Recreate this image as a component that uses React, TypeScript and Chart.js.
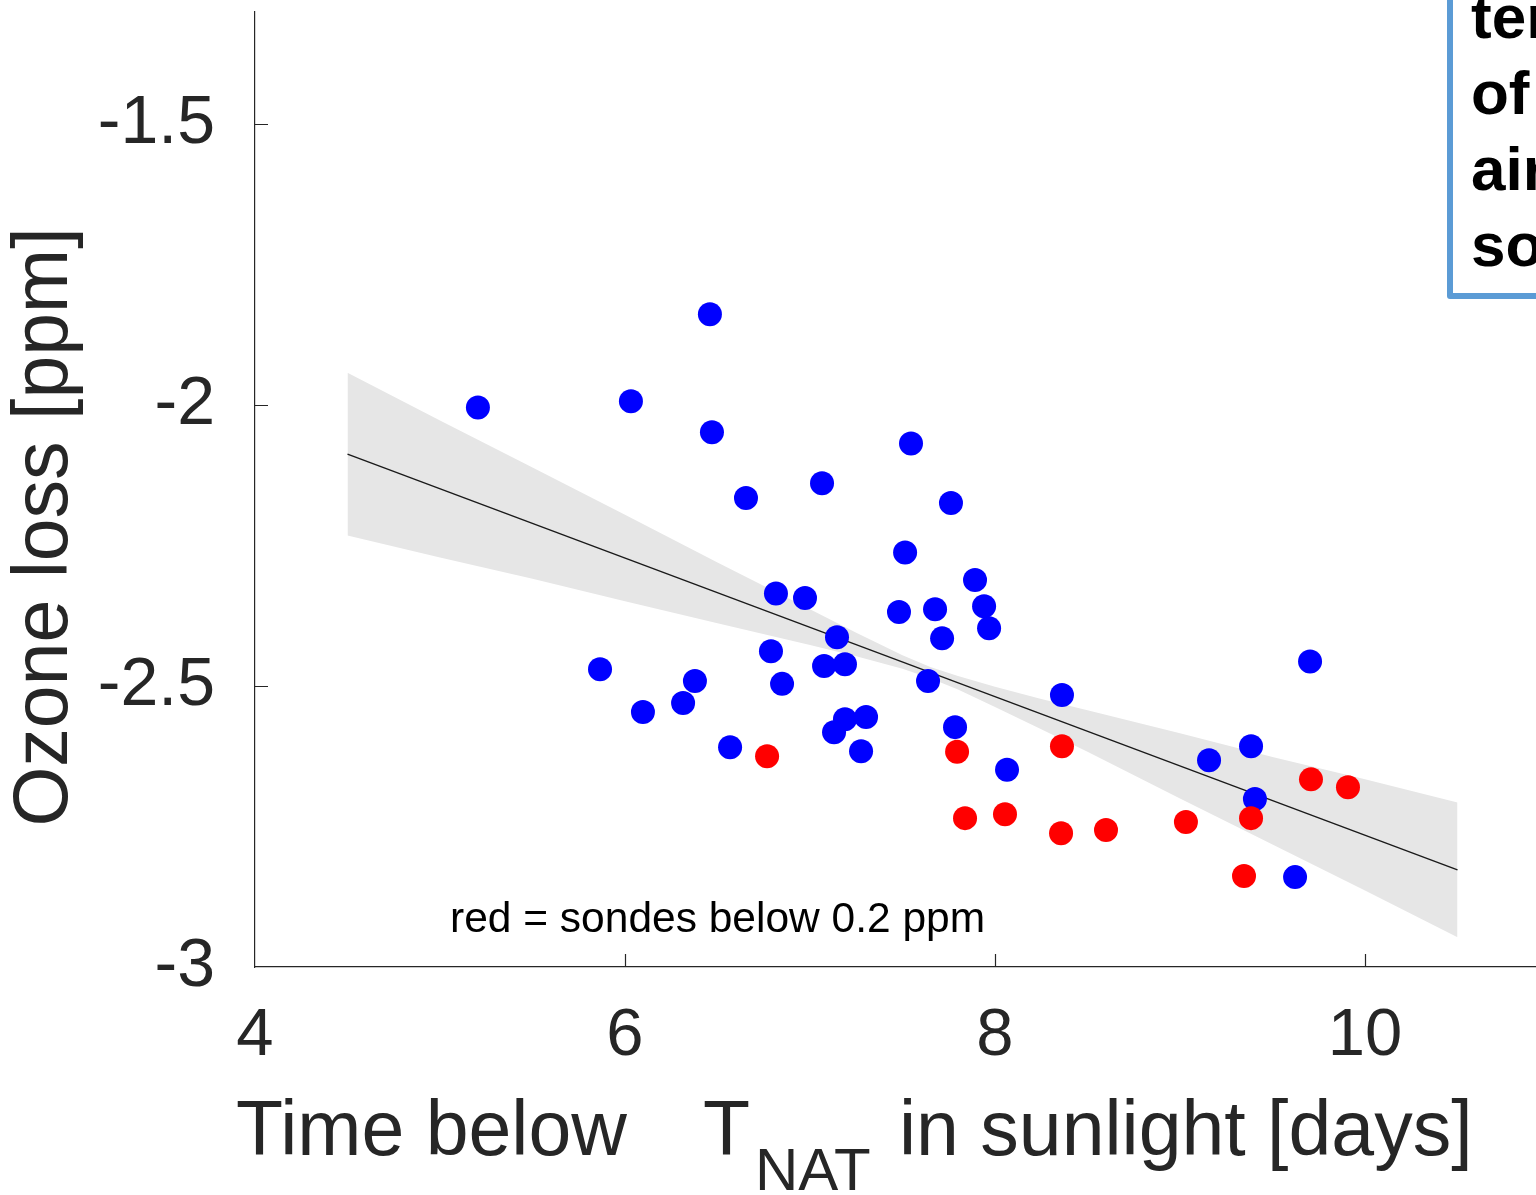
import React, { useEffect, useRef } from "react";
import { Chart, registerables } from "chart.js";

Chart.register(...registerables);

// Sondes with ozone above 0.2 ppm (blue)
const blueDays = [
  5.205, 6.032, 6.459, 6.47, 6.654, 7.065, 7.546, 7.762, 7.514, 6.816,
  6.973, 7.481, 7.676, 7.892, 7.941, 7.968, 7.714, 7.146, 6.789, 7.076,
  7.189, 5.865, 6.378, 6.849, 7.638, 6.097, 6.314, 7.189, 7.303, 7.13,
  6.568, 7.276, 7.784, 8.362, 8.065, 9.703, 9.157, 9.384, 9.405, 9.622,
];
const blueLoss = [
  -2.004, -1.993, -1.838, -2.048, -2.165, -2.139, -2.068, -2.174, -2.262, -2.335,
  -2.343, -2.368, -2.363, -2.311, -2.358, -2.397, -2.415, -2.413, -2.438, -2.464,
  -2.461, -2.47, -2.491, -2.496, -2.491, -2.546, -2.53, -2.559, -2.555, -2.582,
  -2.609, -2.616, -2.573, -2.516, -2.649, -2.456, -2.632, -2.607, -2.701, -2.84,
];

// Sondes below 0.2 ppm (red)
const redDays = [6.768, 7.795, 7.838, 8.054, 8.362, 8.357, 8.6, 9.032, 9.384, 9.708, 9.908, 9.346];
const redLoss = [-2.625, -2.617, -2.735, -2.728, -2.607, -2.762, -2.756, -2.742, -2.735, -2.666, -2.68, -2.838];

// Linear fit and its confidence band
const fitDays = [4.5, 10.5];
const fitLoss = [-2.087, -2.827];
const bandDays = [4.5, 5.0, 5.5, 6.0, 6.5, 7.0, 7.25, 7.5, 7.65, 7.8, 8.0, 8.25, 8.5, 9.0, 9.5, 10.0, 10.5];
const bandUpper = [
  -1.942, -2.027, -2.111, -2.195, -2.28, -2.363, -2.405, -2.445, -2.466,
  -2.482, -2.501, -2.523, -2.543, -2.584, -2.626, -2.666, -2.707,
];
const bandLower = [
  -2.232, -2.271, -2.309, -2.349, -2.388, -2.427, -2.447, -2.469, -2.486,
  -2.506, -2.537, -2.577, -2.617, -2.7, -2.782, -2.864, -2.947,
];

const xTicks = [4, 6, 8, 10];
const yTicks = [-3, -2.5, -2, -1.5];
const yTickLabels = ["-3", "-2.5", "-2", "-1.5"];

const boxLines = ["temperature", "of the", "air above", "sondes"];

const FONT = "'Liberation Sans', Arial, Helvetica, sans-serif";
const INK = "#262626";

const pts = (xs: number[], ys: number[]) => xs.map((x, i) => ({ x, y: ys[i] }));

const decorations = {
  id: "decorations",
  afterDraw(chart: any) {
    const { ctx, chartArea, scales } = chart;
    const xs = scales.x;
    const ys = scales.y;
    ctx.save();

    // inward tick marks (the corner ticks coincide with the axes)
    ctx.strokeStyle = INK;
    ctx.lineWidth = 1.2;
    ctx.beginPath();
    xTicks.slice(1).forEach((v) => {
      const px = Math.round(xs.getPixelForValue(v)) + 0.5;
      ctx.moveTo(px, chartArea.bottom);
      ctx.lineTo(px, chartArea.bottom - 13);
    });
    yTicks.slice(1).forEach((v) => {
      const py = Math.round(ys.getPixelForValue(v)) + 0.5;
      ctx.moveTo(chartArea.left, py);
      ctx.lineTo(chartArea.left + 13, py);
    });
    ctx.stroke();

    // in-plot note
    ctx.fillStyle = "#000";
    ctx.textBaseline = "alphabetic";
    ctx.textAlign = "left";
    ctx.font = `42.5px ${FONT}`;
    ctx.fillText("red = sondes below 0.2 ppm", 450, 932);

    // x axis title with subscript
    ctx.fillStyle = INK;
    ctx.font = `77px ${FONT}`;
    ctx.fillText("Time below", 236, 1155);
    ctx.fillText("T", 703, 1155);
    ctx.font = `60px ${FONT}`;
    ctx.fillText("NAT", 755, 1190);
    ctx.font = `77px ${FONT}`;
    ctx.fillText("in sunlight [days]", 899, 1155);

    // y axis title
    ctx.save();
    ctx.translate(67, 527);
    ctx.rotate(-Math.PI / 2);
    ctx.textAlign = "center";
    ctx.fillText("Ozone loss [ppm]", 0, 0);
    ctx.restore();

    // text box in the upper right corner
    ctx.fillStyle = "#fff";
    ctx.fillRect(1452, -20, 200, 316);
    ctx.strokeStyle = "#5b9bd5";
    ctx.lineWidth = 6;
    ctx.lineJoin = "round";
    ctx.strokeRect(1450, -20, 200, 316);
    ctx.fillStyle = "#000";
    ctx.font = `bold 62px ${FONT}`;
    boxLines.forEach((t, i) => ctx.fillText(t, 1471, 38 + i * 76));

    ctx.restore();
  },
};

export default function App() {
  const ref = useRef<HTMLCanvasElement | null>(null);

  useEffect(() => {
    const canvas = ref.current;
    if (!canvas) return;
    const chart = new Chart(canvas, {
      type: "scatter",
      data: {
        datasets: [
          {
            label: "upper",
            data: pts(bandDays, bandUpper),
            showLine: true,
            borderWidth: 0,
            borderColor: "rgba(0,0,0,0)",
            pointRadius: 0,
            backgroundColor: "#e6e6e6",
            fill: "+1",
            order: 4,
          },
          {
            label: "lower",
            data: pts(bandDays, bandLower),
            showLine: true,
            borderWidth: 0,
            borderColor: "rgba(0,0,0,0)",
            pointRadius: 0,
            fill: false,
            order: 3,
          },
          {
            label: "fit",
            data: pts(fitDays, fitLoss),
            showLine: true,
            borderColor: "#1a1a1a",
            borderWidth: 1.4,
            pointRadius: 0,
            fill: false,
            order: 2,
          },
          {
            label: "blue",
            data: pts(blueDays, blueLoss),
            pointRadius: 12,
            pointBackgroundColor: "#0000ff",
            pointBorderWidth: 0,
            pointBorderColor: "#0000ff",
            order: 1,
          },
          {
            label: "red",
            data: pts(redDays, redLoss),
            pointRadius: 12,
            pointBackgroundColor: "#ff0000",
            pointBorderWidth: 0,
            pointBorderColor: "#ff0000",
            order: 0,
          },
        ],
      },
      options: {
        responsive: false,
        animation: false,
        devicePixelRatio: 1,
        events: [],
        layout: { autoPadding: false, padding: { top: 12, left: 0, right: 0, bottom: 0 } },
        plugins: { legend: { display: false }, tooltip: { enabled: false } },
        scales: {
          x: {
            type: "linear",
            position: "bottom",
            min: 4,
            max: 11,
            afterBuildTicks: (s: any) => {
              s.ticks = xTicks.map((v) => ({ value: v }));
            },
            afterFit: (s: any) => {
              s.height = 228;
              s.paddingLeft = 0;
              s.paddingRight = 0;
            },
            ticks: {
              autoSkip: false,
              maxRotation: 0,
              padding: 29,
              color: INK,
              font: { family: FONT, size: 67, lineHeight: 1.2 },
              callback: (v: any) => String(v),
            },
            grid: { display: false, drawTicks: false },
            border: { display: true, color: INK, width: 1.2 },
          },
          y: {
            type: "linear",
            position: "left",
            min: -3,
            max: -1.3,
            afterBuildTicks: (s: any) => {
              s.ticks = yTicks.map((v) => ({ value: v }));
            },
            afterFit: (s: any) => {
              s.width = 255;
              s.paddingTop = 0;
              s.paddingBottom = 0;
            },
            ticks: {
              padding: 40,
              color: INK,
              font: { family: FONT, size: 68, lineHeight: 1.2 },
              callback: (v: any) => {
                const i = yTicks.indexOf(Number(v));
                return i >= 0 ? yTickLabels[i] : "";
              },
            },
            grid: { display: false, drawTicks: false },
            border: { display: true, color: INK, width: 1.2 },
          },
        },
      },
      plugins: [decorations],
    });
    return () => chart.destroy();
  }, []);

  return (
    <div
      style={{
        position: "fixed",
        left: 0,
        top: 0,
        width: 1536,
        height: 1195,
        overflow: "hidden",
        background: "#fff",
      }}
    >
      <canvas
        ref={ref}
        width={1550}
        height={1195}
        style={{ position: "absolute", left: 0, top: 0, width: 1550, height: 1195 }}
      />
    </div>
  );
}
